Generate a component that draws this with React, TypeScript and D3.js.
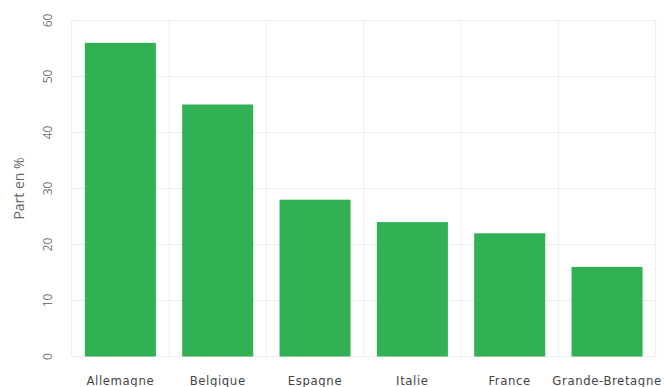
import React from "react";
import * as d3 from "d3";

const categories = ["Allemagne", "Belgique", "Espagne", "Italie", "France", "Grande-Bretagne"];
const values = [56, 45, 28, 24, 22, 16];
const yTicks = [0, 10, 20, 30, 40, 50, 60];

export default function App() {
  const W = 664, H = 387;
  const left = 71.7, right = 655.7, top = 20.5, bottom = 356.5;
  const y = d3.scaleLinear().domain([0, 60]).range([bottom, top]);
  const x = d3.scaleBand<string>().domain(categories).range([left, right]).paddingInner(0.27).paddingOuter(0.135);
  const grid = d3.scaleBand<string>().domain(categories).range([left, right]).padding(0);
  const gridX = categories.map((c) => grid(c) as number).concat([right]);
  return (
    <svg width={W} height={H} style={{ position: "absolute", left: 0, top: 0 }}>
      <rect width={W} height={H} fill="#fff" />
      {yTicks.map((t) => (
        <line key={"h" + t} x1={left} x2={right} y1={y(t)} y2={y(t)} stroke="#eceeed" strokeWidth={1} />
      ))}
      {gridX.map((gx, i) => (
        <line key={"v" + i} x1={gx} x2={gx} y1={top} y2={bottom} stroke="#eceeed" strokeWidth={1} />
      ))}
      {categories.map((c, i) => (
        <rect key={c} x={x(c)} y={y(values[i])} width={x.bandwidth()} height={bottom - y(values[i])} fill="#32b054" />
      ))}
      {yTicks.map((t) => (
        <text key={"t" + t} transform={`translate(52,${y(t)}) rotate(-90)`} textAnchor="middle" fontFamily="Open Sans, sans-serif" fontSize={12} fill="#777">
          {t}
        </text>
      ))}
      <text transform={`translate(24,${(top + bottom) / 2}) rotate(-90)`} textAnchor="middle" fontFamily="Open Sans, sans-serif" fontSize={14} fill="#666">
        Part en %
      </text>
      {categories.map((c) => (
        <text key={"l" + c} x={(x(c) as number) + x.bandwidth() / 2} y={385} textAnchor="middle" fontFamily="DejaVu Sans Condensed, sans-serif" fontStretch="condensed" fontSize={13} letterSpacing={0.6} fill="#444">
          {c}
        </text>
      ))}
    </svg>
  );
}
